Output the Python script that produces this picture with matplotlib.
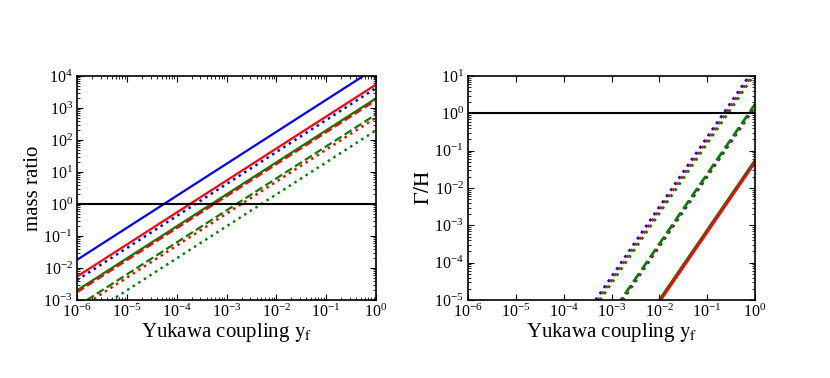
import numpy as np
import matplotlib
matplotlib.use('Agg')
from matplotlib import pyplot as plt

plt.rcParams['font.family'] = ['Liberation Serif', 'DejaVu Serif']
plt.rcParams['mathtext.fontset'] = 'stix'

# Yukawa coupling range
yf = np.logspace(-6, 0, 200)

# left panel: mass ratio = coef * y_f  (value read at y_f = 1)
mass_colors = ['blue', 'red', 'blue', 'green', 'red', 'green', 'red', 'green']
mass_styles = ['-', '-', ':', '-', '--', '--', ':', ':']
mass_coef = [1.8e4, 5.4e3, 4.2e3, 2.0e3, 1.75e3, 6.3e2, 5.0e2, 2.0e2]

# right panel: Gamma/H = coef * y_f**slope
rate_colors = ['blue', 'red', 'green', 'blue', 'red', 'green', 'green', 'red']
rate_styles = [':', ':', ':', ':', ':', '--', '-', '-']
rate_coef = [17.0, 14.0, 11.5, 1.50, 1.62, 1.75, 0.055, 0.049]
rate_slope = 1.87

fig = plt.figure(figsize=(8.3, 3.78), dpi=100)
ax1 = fig.add_axes([77 / 830, 1 - 300 / 378, 299 / 830, 224 / 378])
ax2 = fig.add_axes([468 / 830, 1 - 300 / 378, 287 / 830, 224 / 378])

for c, ls, k in zip(mass_colors, mass_styles, mass_coef):
    ax1.plot(yf, k * yf, color=c, linestyle=ls, lw=1.8 if ls == ':' else 1.6)
ax1.axhline(1.0, color='black', lw=1.5)
ax1.set_ylim(1e-3, 1e4)
ax1.set_ylabel('mass ratio', fontsize=15, labelpad=0)

for c, ls, k in zip(rate_colors, rate_styles, rate_coef):
    ax2.plot(yf, k * yf ** rate_slope, color=c, linestyle=ls, lw=2.0)
ax2.axhline(1.0, color='black', lw=1.5)
ax2.set_ylim(1e-5, 1e1)
ax2.set_ylabel(r'$\Gamma/\mathrm{H}$', fontsize=15, labelpad=0)

for ax in (ax1, ax2):
    ax.set_xscale('log')
    ax.set_yscale('log')
    ax.set_xlim(1e-6, 1)
    ax.set_xlabel(r'Yukawa coupling $\mathrm{y_f}$', fontsize=15, labelpad=0)
    ax.tick_params(which='both', direction='in', top=True, right=True, labelsize=11.5)
    ax.tick_params(which='major', length=4, pad=3)
    ax.tick_params(which='minor', length=2)
    ax.xaxis.set_major_locator(matplotlib.ticker.LogLocator(base=10, numticks=10))
    ax.yaxis.set_major_locator(matplotlib.ticker.LogLocator(base=10, numticks=12))
    for s in ax.spines.values():
        s.set_linewidth(1.2)

fig.savefig('out.png', dpi=100)
